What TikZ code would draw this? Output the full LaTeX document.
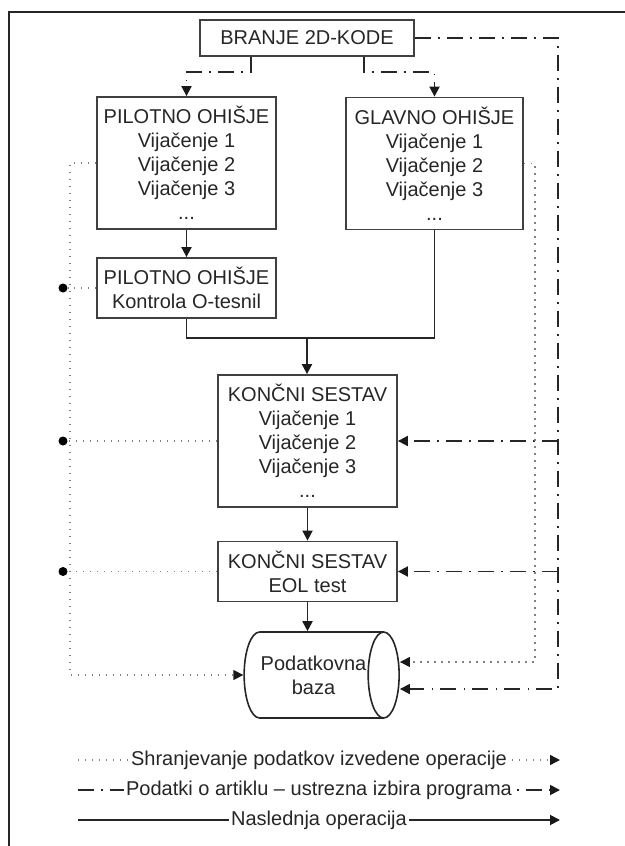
\documentclass[tikz,border=0pt]{standalone}
\usepackage{fontspec}
\setmainfont{Liberation Sans}
\usetikzlibrary{arrows.meta,shapes.geometric,positioning}

\begin{document}
\begin{tikzpicture}[x=0.5pt, y=-0.5pt,
	every node/.style={font=\fontsize{10}{12}\selectfont, text=black!85},
	box/.style={draw=black!75, line width=0.9pt, align=center, inner sep=0pt,
		minimum width=89.5pt, minimum height=66pt},
	smallbox/.style={box, minimum height=30pt},
	flow/.style={draw=black!85, line width=0.9pt},
	store/.style={draw=black!50, line width=0.7pt, dash pattern=on 0.7pt off 2.8pt},
	artikel/.style={draw=black!85, line width=0.9pt, dash pattern=on 8pt off 3.7pt on 0.6pt off 3.7pt},
	tip/.style={-{Triangle[length=5pt,width=5pt,color=black!90]}},
	pika/.style={circle, fill=black, inner sep=0pt, minimum size=4.5pt}]
	\useasboundingbox (0,0) rectangle (625,846);
	\draw[black!85, line width=0.8pt] (625,12) -- (9,12) -- (9,846);

	\node[box, minimum width=107pt, minimum height=18pt] (kod) at (307,38) {BRANJE 2D-KODE};
	\node[box] (pil) at (186.5,163) {PILOTNO OHIŠJE\\Vijačenje 1\\Vijačenje 2\\Vijačenje 3\\...};
	\node[box, minimum width=88.5pt] (glv) at (434.5,163.5) {GLAVNO OHIŠJE\\Vijačenje 1\\Vijačenje 2\\Vijačenje 3\\...};
	\node[smallbox] (kon) at (186.5,288) {PILOTNO OHIŠJE\\Kontrola O-tesnil};
	\node[box] (kss) at (307.5,441) {KONČNI SESTAV\\Vijačenje 1\\Vijačenje 2\\Vijačenje 3\\...};
	\node[smallbox] (eol) at (307.5,571.5) {KONČNI SESTAV\\EOL test};
	% cylinder: height is along the axis, width across it
	\node[cylinder, draw=black!85, line width=0.8pt, aspect=0.8, align=center, inner sep=0pt,
		minimum height=77.5pt, minimum width=43pt] (baza) at (313.5,675) {Podatkovna\\baza};

	\node[pika] (d1) at (63,288) {};
	\node[pika] (d2) at (63,441) {};
	\node[pika] (d3) at (63,571.5) {};
	\coordinate (lbus) at (70,675);
	\coordinate (rbus) at (535,662);
	\coordinate (abus) at (558,689);
	\coordinate (merge) at (307,338);

	\draw[flow,tip] (pil) -- (kon);
	\draw[flow] (kon.south) |- (merge) -| (glv.south);
	\draw[flow,tip] (merge) -- (merge |- kss.north);
	\draw[flow,tip] (kss) -- (eol);
	\draw[flow,tip] (eol.south) -- (eol.south |- baza.north);

	\draw[artikel,tip] ([xshift=-28pt]kod.south) -- ++(0,15) -| (pil.north);
	\draw[artikel,tip] ([xshift=28.5pt]kod.south) -- ++(0,15) -| (glv.north);
	\draw[artikel,tip] (kod.east) -| (abus) -- (abus -| baza.east);
	\draw[artikel,tip] (abus |- kss.east) -- (kss.east);
	\draw[artikel,tip] (abus |- eol.east) -- (eol.east);

	\draw[store,tip] (pil.west) -| (lbus) -- (lbus -| baza.west);
	\draw[store,tip] (glv.east) -| (rbus) -- (rbus -| baza.east);
	\draw[store] (kon.west) -- (d1);
	\draw[store] (kss.west) -- (d2);
	\draw[store] (eol.west) -- (d3);

	\coordinate (l1a) at (78,760); \coordinate (l1b) at (560,760);
	\coordinate (l2a) at (78,790); \coordinate (l2b) at (560,790);
	\coordinate (l3a) at (78,820); \coordinate (l3b) at (560,820);
	\draw[store,tip] (l1a) -- (l1b) node[midway, fill=white, inner sep=1pt] {Shranjevanje podatkov izvedene operacije};
	\draw[artikel,tip] (l2a) -- (l2b) node[midway, fill=white, inner sep=1pt] {Podatki o artiklu – ustrezna izbira programa};
	\draw[flow,tip] (l3a) -- (l3b) node[midway, fill=white, inner sep=1pt] {Naslednja operacija};
\end{tikzpicture}
\end{document}
